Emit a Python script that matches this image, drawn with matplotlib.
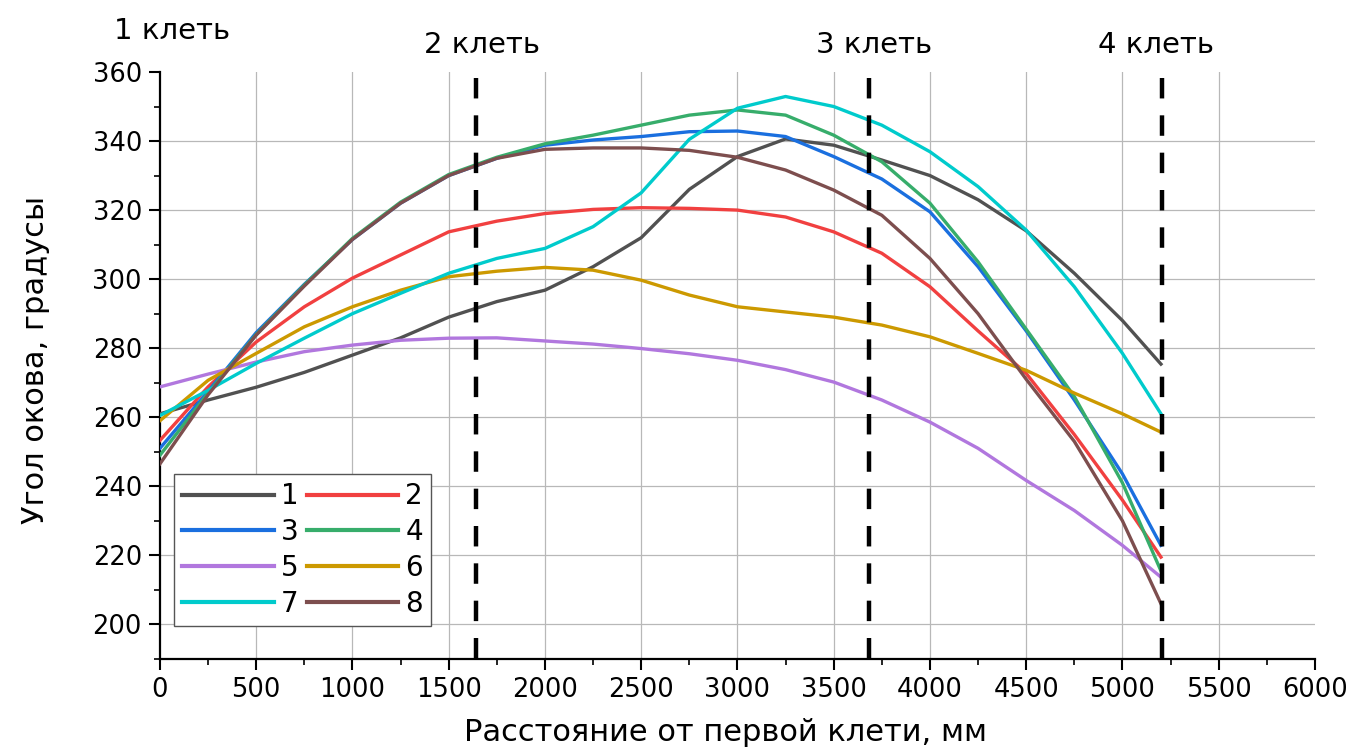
import matplotlib
matplotlib.use("Agg")
import matplotlib.pyplot as plt
from matplotlib.ticker import MultipleLocator

plt.rcParams["font.family"] = ["DejaVu Sans"]

# distance from the first stand, mm
x_mm = [0, 250, 500, 750, 1000, 1250, 1500, 1750, 2000, 2250, 2500,
        2750, 3000, 3250, 3500, 3750, 4000, 4250, 4500, 4750, 5000, 5200]

# bite angle, degrees
curve_1 = [261, 265, 268.7, 273, 278, 283, 289, 293.5, 296.8, 303.6, 312,
           326, 335.5, 340.6, 338.8, 334.5, 330, 323, 314, 301.7, 288, 275.4]
curve_2 = [253.3, 268.8, 281.8, 292, 300.3, 307, 313.7, 316.8, 319, 320.2, 320.7,
           320.5, 320, 318, 313.7, 307.5, 297.8, 285, 272.7, 255, 236, 219.5]
curve_3 = [251, 267.5, 284.5, 298.5, 311.5, 322, 330, 335, 338.8, 340.3, 341.3,
           342.7, 342.9, 341.3, 335.5, 329, 319.5, 303.6, 285, 265, 243.6, 222.9]
curve_4 = [249, 267, 284, 298.3, 311.8, 322.3, 330.3, 335.3, 339.2, 341.7, 344.6,
           347.5, 349, 347.5, 341.7, 334, 322, 305, 285.5, 266, 241, 215.5]
curve_5 = [268.8, 272.5, 276, 279, 280.9, 282.3, 282.9, 283, 282.1, 281.2, 279.9,
           278.4, 276.5, 273.8, 270.2, 265, 258.6, 251, 241.7, 233, 222.9, 213.7]
curve_6 = [259, 270.7, 278.5, 286.2, 292, 296.8, 300.7, 302.3, 303.4, 302.6, 299.7,
           295.4, 292, 290.5, 289, 286.7, 283.3, 278.5, 273.6, 267, 261, 255.7]
curve_7 = [260.5, 267.8, 275.6, 282.9, 290, 295.9, 301.7, 306, 308.9, 315.2, 325,
           340.5, 349.5, 352.9, 350, 344.6, 336.9, 326.8, 314.2, 297.8, 278.5, 261]
curve_8 = [246.5, 266.5, 283.8, 298, 311.5, 322, 330, 335, 337.6, 338, 338,
           337.3, 335.3, 331.6, 325.8, 318.5, 306, 290, 271, 253, 230, 206]

curves = [curve_1, curve_2, curve_3, curve_4, curve_5, curve_6, curve_7, curve_8]
labels = ["1", "2", "3", "4", "5", "6", "7", "8"]
colors = ["#515151", "#F14040", "#1A6FDF", "#37AD6B",
          "#B177DE", "#CC9900", "#00CBCC", "#7D4E4E"]

# stand positions and captions
stand_x = [1640, 3685, 5205]
stand_labels = ["1 клеть", "2 клеть", "3 клеть", "4 клеть"]
stand_label_x = [65, 1673, 3709, 5175]
stand_label_y = [369.6, 365.5, 365.5, 365.5]

fig = plt.figure(figsize=(13.52, 7.49), dpi=100)
ax = fig.add_axes([0.1183, 0.1202, 0.8543, 0.7837])

for v in range(200, 360, 20):
    ax.axhline(v, color="#b8b8b8", lw=0.9, zorder=0)
for v in range(500, 6000, 500):
    ax.axvline(v, color="#b8b8b8", lw=0.9, zorder=0)

handles = []
for ys, lab, c in zip(curves, labels, colors):
    h, = ax.plot(x_mm, ys, color=c, lw=2.4, label=lab, zorder=3)
    handles.append(h)

for sx in stand_x:
    ax.plot([sx, sx], [358.3, 190], color="black", lw=3.2,
            linestyle=(0, (4.6, 3.8)), zorder=4, clip_on=False)

for tx, ty, t in zip(stand_label_x, stand_label_y, stand_labels):
    ax.text(tx, ty, t, ha="center", va="baseline", fontsize=21, clip_on=False)

ax.set_xlim(0, 6000)
ax.set_ylim(190, 360)
ax.xaxis.set_major_locator(MultipleLocator(500))
ax.xaxis.set_minor_locator(MultipleLocator(250))
ax.set_yticks(range(200, 361, 20))
ax.yaxis.set_minor_locator(MultipleLocator(10))

for side in ["top", "right"]:
    ax.spines[side].set_visible(False)
for side in ["left", "bottom"]:
    ax.spines[side].set_linewidth(1.6)

ax.tick_params(which="major", direction="out", length=8, width=1.5,
               labelsize=18.5, pad=5)
ax.tick_params(which="minor", direction="out", length=4.5, width=1.2)

ax.set_xlabel("Расстояние от первой клети, мм", fontsize=22)
ax.set_ylabel("Угол окова, градусы", fontsize=22)
ax.xaxis.set_label_coords(0.49, -0.100)
ax.yaxis.set_label_coords(-0.095, 0.51)

# legend filled row by row: 1 2 / 3 4 / 5 6 / 7 8
order = [0, 2, 4, 6, 1, 3, 5, 7]
leg = ax.legend([handles[i] for i in order], [labels[i] for i in order],
                ncol=2, loc="lower left", bbox_to_anchor=(0.012, 0.056),
                borderaxespad=0, fontsize=20, handlelength=3.3,
                handletextpad=0.25, columnspacing=0.3, labelspacing=0.28,
                borderpad=0.3, fancybox=False, framealpha=1)
leg.get_frame().set_edgecolor("#555555")
leg.get_frame().set_linewidth(1.0)
for line in leg.get_lines():
    line.set_linewidth(3.0)

fig.savefig("out.png", dpi=100)
